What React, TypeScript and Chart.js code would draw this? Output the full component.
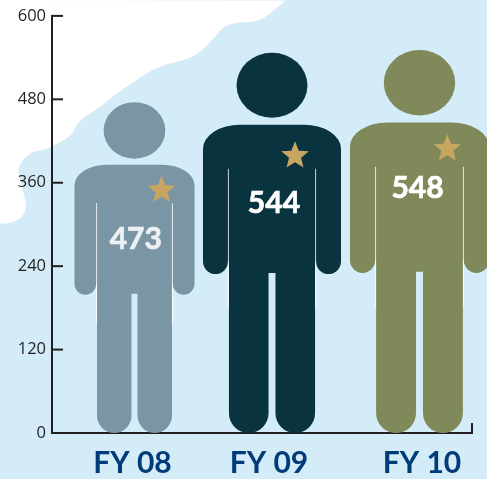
import React, { useEffect, useRef } from "react";
import { Chart, registerables } from "chart.js";

Chart.register(...registerables);

const categories = ["FY 08", "FY 09", "FY 10"];
const headcount = [473, 544, 548];
const figurePositions = [82.5, 220, 367.5];
const labelPositions = [80.5, 217, 370];
const figureColors = ["#7A96A4", "#0A3340", "#7F8959"];
const valueColors = ["#EDF1F3", "#FFFFFF", "#FFFFFF"];
const yTicks = [0, 120, 240, 360, 480, 600];
// shoreline of the backdrop, in axis units
const shoreX = [-52, -37, -25, -28, -35, -30, -19, -7, 20, 22, 31, 48, 61, 81, 98, 115, 135, 151, 161, 175, 205, 218, 231, 233];
const shoreY = [301, 301, 319, 344, 378, 392, 406, 406, 428, 438, 454, 468, 485, 504, 521, 531, 537, 550, 567, 590, 591, 603, 619, 622];

const AXIS = "#231F20";
const BACKDROP = "#D4ECF7";
const STAR = "#C6A661";
const valueLabelV = [0.414, 0.395, 0.36];
const valueLabelU = [0.011, 0.014, -0.014];
const starU = [0.225, 0.167, 0.2];
const starV = [0.266, 0.271, 0.258];

function drawPerson(ctx: CanvasRenderingContext2D, el: any, i: number, color: string) {
  const cx = el.x;
  const top = el.y - 2;
  const H = el.base - top;
  const W = H * 0.363;
  const X = (u: number) => cx + u * W;
  const Y = (v: number) => top + v * H;
  ctx.save();
  ctx.fillStyle = color;
  // head
  ctx.beginPath();
  ctx.ellipse(cx, Y(0.0855), 0.257 * W, 0.0855 * H, 0, 0, Math.PI * 2);
  ctx.fill();
  // body
  const shoulderRx = 0.27 * W;
  const shoulderRy = 0.063 * H;
  const shoulderV = 0.189;
  const armInner = 0.319;
  const armR = ((0.5 - armInner) / 2) * W;
  const armEnd = Y(0.582) - armR;
  const torso = 0.312;
  const legInner = 0.025;
  const legR = ((torso - legInner) / 2) * W;
  const footY = el.base - legR;
  ctx.beginPath();
  ctx.moveTo(X(-0.5), Y(shoulderV) + shoulderRy);
  ctx.ellipse(X(-0.5) + shoulderRx, Y(shoulderV) + shoulderRy, shoulderRx, shoulderRy, 0, Math.PI, Math.PI * 1.5);
  ctx.lineTo(X(0.5) - shoulderRx, Y(shoulderV));
  ctx.ellipse(X(0.5) - shoulderRx, Y(shoulderV) + shoulderRy, shoulderRx, shoulderRy, 0, Math.PI * 1.5, Math.PI * 2);
  ctx.lineTo(X(0.5), armEnd);
  ctx.arc(X(0.5) - armR, armEnd, armR, 0, Math.PI);
  ctx.lineTo(X(torso), armEnd);
  ctx.lineTo(X(torso), footY);
  ctx.arc(X(torso) - legR, footY, legR, 0, Math.PI);
  ctx.lineTo(X(legInner), Y(0.579));
  ctx.lineTo(X(-legInner), Y(0.579));
  ctx.lineTo(X(-legInner), footY);
  ctx.arc(X(-torso) + legR, footY, legR, 0, Math.PI);
  ctx.lineTo(X(-torso), armEnd);
  ctx.lineTo(X(-armInner), armEnd);
  ctx.arc(X(-0.5) + armR, armEnd, armR, 0, Math.PI);
  ctx.closePath();
  ctx.fill();
  // slits between arms and torso
  ctx.strokeStyle = "rgba(255,255,255,0.8)";
  ctx.lineWidth = 1;
  for (const s of [-1, 1]) {
    ctx.beginPath();
    ctx.moveTo(X(s * 0.316), Y(0.305));
    ctx.lineTo(X(s * 0.316), Y(0.67));
    ctx.stroke();
  }
  // star
  const sx = X(starU[i]);
  const sy = Y(starV[i]);
  ctx.fillStyle = STAR;
  ctx.beginPath();
  for (let k = 0; k < 10; k++) {
    const r = k % 2 === 0 ? 14.5 : 6.3;
    const a = -Math.PI / 2 + (k * Math.PI) / 5;
    ctx.lineTo(sx + r * Math.cos(a), sy + r * Math.sin(a));
  }
  ctx.closePath();
  ctx.fill();
  // value
  ctx.fillStyle = valueColors[i];
  ctx.strokeStyle = valueColors[i];
  ctx.lineWidth = 0.7;
  ctx.font = "700 30px Lato";
  ctx.textAlign = "center";
  ctx.textBaseline = "middle";
  ctx.fillText(String(headcount[i]), X(valueLabelU[i]), Y(valueLabelV[i]));
  ctx.strokeText(String(headcount[i]), X(valueLabelU[i]), Y(valueLabelV[i]));
  ctx.restore();
}

const personPlugin = {
  id: "personPlugin",
  beforeDraw(chart: any) {
    const { ctx, width, height } = chart;
    const x = chart.scales.x;
    const y = chart.scales.y;
    ctx.save();
    ctx.fillStyle = BACKDROP;
    ctx.fillRect(0, 0, width, height);
    ctx.fillStyle = "#FFFFFF";
    const pts = shoreX.map((v, i) => [x.getPixelForValue(v), y.getPixelForValue(shoreY[i])]);
    ctx.beginPath();
    ctx.moveTo(0, 0);
    ctx.lineTo(pts[0][0], pts[0][1]);
    for (let i = 1; i < pts.length - 1; i++) {
      const mx = (pts[i][0] + pts[i + 1][0]) / 2;
      const my = (pts[i][1] + pts[i + 1][1]) / 2;
      ctx.quadraticCurveTo(pts[i][0], pts[i][1], mx, my);
    }
    ctx.lineTo(pts[pts.length - 1][0], pts[pts.length - 1][1]);
    ctx.closePath();
    ctx.fill();
    ctx.restore();
  },
  beforeDatasetsDraw(chart: any) {
    const { ctx, chartArea } = chart;
    const y = chart.scales.y;
    ctx.save();
    ctx.strokeStyle = AXIS;
    ctx.lineWidth = 2;
    y.ticks.forEach((t: any) => {
      const py = y.getPixelForValue(t.value);
      ctx.beginPath();
      ctx.moveTo(chartArea.left, py);
      ctx.lineTo(chartArea.left + 11, py);
      ctx.stroke();
    });
    for (const px of [chartArea.left, chartArea.right]) {
      ctx.beginPath();
      ctx.moveTo(px, chartArea.bottom);
      ctx.lineTo(px, chartArea.bottom - 10);
      ctx.stroke();
    }
    ctx.restore();
    const meta = chart.getDatasetMeta(0);
    meta.data.forEach((el: any, i: number) => {
      el.draw = (c: CanvasRenderingContext2D) => drawPerson(c, el, i, figureColors[i]);
    });
  },
};

export default function App() {
  const ref = useRef<HTMLCanvasElement>(null);
  useEffect(() => {
    const chart = new Chart(ref.current as HTMLCanvasElement, {
      type: "bar",
      data: {
        datasets: [
          {
            label: "Headcount",
            data: headcount.map((v, i) => ({ x: figurePositions[i], y: v })),
            backgroundColor: figureColors,
            barThickness: 120,
            clip: false,
          } as any,
        ],
      },
      options: {
        animation: false,
        responsive: false,
        layout: { padding: { top: 15, right: 15, left: 0, bottom: 0 } },
        plugins: { legend: { display: false }, tooltip: { enabled: false } },
        scales: {
          x: {
            type: "linear",
            offset: false,
            min: 0,
            max: 420,
            grid: { display: false, offset: false, drawTicks: false },
            border: { color: AXIS, width: 2 },
            afterFit: (s: any) => {
              s.height = 46;
            },
            afterBuildTicks: (s: any) => {
              s.ticks = labelPositions.map((value) => ({ value }));
            },
            ticks: {
              autoSkip: false,
              maxRotation: 0,
              padding: 12,
              color: "#003B7A",
              font: { family: "Lato", weight: "bold", size: 30 },
              callback: (v: any) => categories[labelPositions.indexOf(Number(v))] ?? "",
            },
          },
          y: {
            min: 0,
            max: 600,
            grid: { display: false, drawTicks: false },
            border: { color: AXIS, width: 2 },
            afterFit: (s: any) => {
              s.width = 52;
            },
            afterBuildTicks: (s: any) => {
              s.ticks = yTicks.map((value) => ({ value }));
            },
            ticks: {
              padding: 6,
              color: AXIS,
              font: { family: "Open Sans", size: 16.5 },
            },
          },
        },
      },
      plugins: [personPlugin],
    } as any);
    return () => chart.destroy();
  }, []);
  return (
    <div style={{ position: "fixed", left: 0, top: 0, width: 487, height: 479 }}>
      <canvas ref={ref} width={487} height={479} style={{ display: "block" }} />
    </div>
  );
}
